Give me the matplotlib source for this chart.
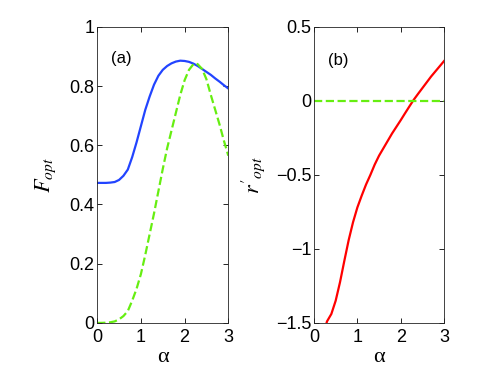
import matplotlib
matplotlib.use('Agg')
import matplotlib.pyplot as plt
from matplotlib.ticker import FuncFormatter

# (a) F_opt vs alpha
alpha_blue = [0, 0.1, 0.2, 0.3, 0.4, 0.5, 0.6, 0.7, 0.8, 0.9, 1.0, 1.1, 1.2, 1.3, 1.4, 1.5,
              1.6, 1.7, 1.8, 1.9, 2.0, 2.1, 2.2, 2.3, 2.4, 2.5, 2.6, 2.7, 2.8, 2.9, 3.0]
F_blue = [0.473, 0.473, 0.473, 0.474, 0.476, 0.483, 0.497, 0.518, 0.56, 0.61, 0.665, 0.72,
          0.765, 0.805, 0.835, 0.855, 0.868, 0.877, 0.883, 0.886, 0.885, 0.882, 0.876,
          0.868, 0.858, 0.848, 0.838, 0.826, 0.815, 0.803, 0.792]

alpha_green = [0, 0.1, 0.2, 0.3, 0.4, 0.5, 0.6, 0.7, 0.8, 0.9, 1.0, 1.1, 1.2, 1.3, 1.4, 1.5,
               1.6, 1.7, 1.8, 1.9, 2.0, 2.1, 2.2, 2.25, 2.3, 2.4, 2.5, 2.6, 2.7, 2.8, 2.9, 3.0]
F_green = [0, 0, 0.0005, 0.002, 0.005, 0.012, 0.023, 0.04, 0.075, 0.115, 0.165, 0.23, 0.30,
           0.37, 0.445, 0.52, 0.59, 0.65, 0.71, 0.77, 0.82, 0.855, 0.874, 0.877, 0.874,
           0.858, 0.823, 0.77, 0.72, 0.67, 0.615, 0.565]

# (b) r'_opt vs alpha
alpha_red = [0.26, 0.3, 0.4, 0.5, 0.6, 0.7, 0.8, 0.9, 1.0, 1.1, 1.2, 1.3, 1.4, 1.5, 1.6, 1.7,
             1.8, 1.9, 2.0, 2.1, 2.2, 2.3, 2.4, 2.5, 2.6, 2.7, 2.8, 2.9, 3.0]
r_red = [-1.53, -1.49, -1.44, -1.35, -1.225, -1.08, -0.94, -0.82, -0.72, -0.64, -0.565,
         -0.50, -0.43, -0.37, -0.32, -0.27, -0.22, -0.175, -0.13, -0.083, -0.037, 0.008,
         0.048, 0.087, 0.126, 0.165, 0.2, 0.235, 0.27]

alpha_zero = [0, 3]
r_zero = [0, 0]

plt.rcParams['font.family'] = ['Liberation Sans', 'DejaVu Sans']
plt.rcParams['font.size'] = 13
plt.rcParams['mathtext.fontset'] = 'stix'
plt.rcParams['axes.unicode_minus'] = True

blue = '#2244ff'
green = '#66ee11'
red = '#ff0000'


def fmt(v, pos):
    return ('%g' % v).replace('-', '\u2212')


def style(ax):
    ax.tick_params(direction='in', top=True, right=True, length=3.5, width=0.6)
    ax.tick_params(axis='x', pad=4.5)
    ax.tick_params(axis='y', pad=2)
    for s in ax.spines.values():
        s.set_linewidth(0.6)
        s.set_color('#222222')
    ax.xaxis.set_major_formatter(FuncFormatter(fmt))
    ax.yaxis.set_major_formatter(FuncFormatter(fmt))
    ax.set_xlabel('α', family=['Liberation Serif'], fontsize=16, labelpad=1)


fig = plt.figure(figsize=(4.91, 3.69), dpi=100)

ax1 = fig.add_axes([0.198, 0.125, 0.267, 0.802])
ax1.plot(alpha_blue, F_blue, color=blue, lw=1.6)
ax1.plot(alpha_green, F_green, color=green, lw=1.6, ls='--')
ax1.set_xlim(0, 3)
ax1.set_ylim(0, 1)
ax1.set_xticks([0, 1, 2, 3])
ax1.set_yticks([0, 0.2, 0.4, 0.6, 0.8, 1])
style(ax1)
ax1.set_ylabel('$F_{opt}$', fontsize=16, labelpad=8)
ax1.text(0.54, 0.894, '(a)', ha='center', va='center', fontsize=12)

ax2 = fig.add_axes([0.6395, 0.125, 0.265, 0.802])
ax2.plot(alpha_red, r_red, color=red, lw=1.6)
ax2.plot(alpha_zero, r_zero, color=green, lw=1.6, ls='--')
ax2.set_xlim(0, 3)
ax2.set_ylim(-1.5, 0.5)
ax2.set_xticks([0, 1, 2, 3])
ax2.set_yticks([-1.5, -1, -0.5, 0, 0.5])
style(ax2)
ax2.set_ylabel("$r'_{opt}$", fontsize=16, labelpad=6)
ax2.text(0.56, 0.275, '(b)', ha='center', va='center', fontsize=12)

fig.savefig('out.png', dpi=100)
